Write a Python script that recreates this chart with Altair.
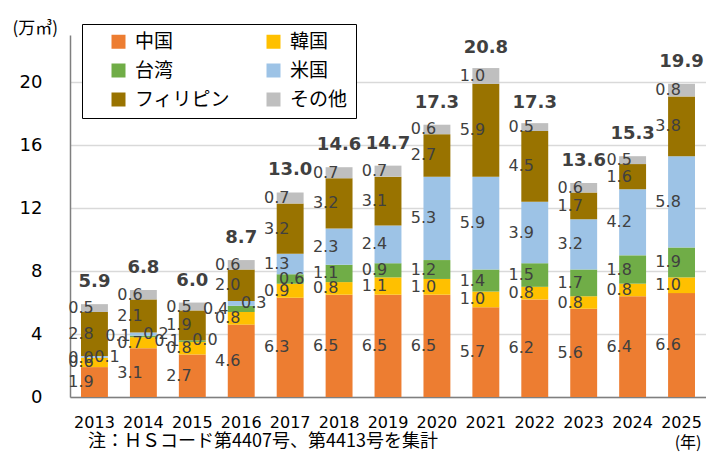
import altair as alt
import pandas as pd

years = [str(y) for y in range(2013, 2026)]
series = ["中国", "韓国", "台湾", "米国", "フィリピン", "その他"]
china = [1.9, 3.1, 2.7, 4.6, 6.3, 6.5, 6.5, 6.5, 5.7, 6.2, 5.6, 6.4, 6.6]
korea = [0.6, 0.7, 0.8, 0.8, 0.9, 0.8, 1.1, 1.0, 1.0, 0.8, 0.8, 0.8, 1.0]
taiwan = [0.0, 0.1, 0.1, 0.4, 0.6, 1.1, 0.9, 1.2, 1.4, 1.5, 1.7, 1.8, 1.9]
usa = [0.1, 0.2, 0.0, 0.3, 1.3, 2.3, 2.4, 5.3, 5.9, 3.9, 3.2, 4.2, 5.8]
phil = [2.8, 2.1, 1.9, 2.0, 3.2, 3.2, 3.1, 2.7, 5.9, 4.5, 1.7, 1.6, 3.8]
other = [0.5, 0.6, 0.5, 0.6, 0.7, 0.7, 0.7, 0.6, 1.0, 0.5, 0.6, 0.5, 0.8]
totals = [5.9, 6.8, 6.0, 8.7, 13.0, 14.6, 14.7, 17.3, 20.8, 17.3, 13.6, 15.3, 19.9]
colors = ["#ED7D31", "#FFC000", "#70AD47", "#9DC3E6", "#997300", "#BFBFBF"]
note = "注：ＨＳコード第4407号、第4413号を集計"

rows = []
for idx, (name, vals) in enumerate(zip(series, [china, korea, taiwan, usa, phil, other])):
    for yr, v in zip(years, vals):
        rows.append({"year": yr, "series": name, "idx": idx, "value": v})
df = pd.DataFrame(rows)
tot_df = pd.DataFrame({"year": years, "total": totals})

xenc = alt.X(
    "year:N",
    sort=years,
    scale=alt.Scale(paddingInner=0.45, paddingOuter=0.225),
    axis=alt.Axis(
        title="(年)", labelAngle=0, ticks=False, labelFont="DejaVu Sans",
        labelFontSize=16, labelColor="black", labelPadding=17,
        domainColor="#7F7F7F", domainWidth=1.5,
        titleFont="Noto Sans CJK JP", titleFontSize=16, titleFontWeight="normal",
        titleColor="black", titleX=631, titleY=45, titleAlign="right",
        titleBaseline="middle", titleAnchor="end",
    ),
)
yscale = alt.Scale(domain=[0, 23], nice=False, zero=True)

base = alt.Chart(df).transform_stack(
    stack="value", groupby=["year"], as_=["y0", "y1"],
    sort=[alt.SortField("idx", order="ascending")],
).transform_calculate(
    mid="(datum.y0 + datum.y1) / 2",
    label="format(datum.value, '.1f')",
    xoff="datum.series == '米国' && datum.value < 0.5 ? 26 : "
         "(datum.series == '台湾' && datum.value >= 0.05 && datum.value < 0.5 ? -12 : "
         "(datum.series == '台湾' && datum.value >= 0.5 && datum.value < 0.7 ? 15 : 0))",
    yoff="datum.series == '台湾' && datum.value < 0.05 ? -8 : 0",
)

bars = base.mark_bar().encode(
    x=xenc,
    y=alt.Y(
        "y0:Q", scale=yscale,
        axis=alt.Axis(
            values=[0, 4, 8, 12, 16, 20], ticks=False, labelFont="DejaVu Sans",
            labelFontSize=18, labelColor="black", labelPadding=28,
            domainColor="#7F7F7F", domainWidth=1.5, gridColor="#D9D9D9", gridWidth=1.5,
            title="(万㎥)", titleAngle=0, titleX=-58, titleY=-7, titleAlign="left",
            titleBaseline="middle", titleFont="Noto Sans CJK JP", titleFontSize=17,
            titleFontWeight="normal", titleColor="black",
        ),
    ),
    y2="y1:Q",
    color=alt.Color(
        "series:N",
        scale=alt.Scale(domain=series, range=colors),
        legend=alt.Legend(
            title=None, orient="none", legendX=12, legendY=-11, columns=2,
            direction="horizontal",
            symbolType="square", symbolSize=196, symbolStrokeWidth=0,
            symbolOffset=19, columnPadding=14, rowPadding=9, labelOffset=7,
            labelFont="Noto Sans CJK JP", labelFontSize=19, labelColor="black",
            strokeColor="black", fillColor="white", padding=8,
        ),
    ),
    order=alt.Order("idx:Q", sort="ascending"),
)

labels = base.mark_text(
    font="DejaVu Sans", fontSize=16, color="#404040", baseline="middle"
).encode(
    x=alt.X("year:N", sort=years),
    y=alt.Y("mid:Q", scale=yscale),
    xOffset=alt.XOffset("xoff:Q", scale=None),
    yOffset=alt.YOffset("yoff:Q", scale=None),
    text="label:N",
)

tot_labels = alt.Chart(tot_df).mark_text(
    font="DejaVu Sans", fontSize=18, fontWeight="bold", color="#404040",
    baseline="alphabetic", dy=-17,
).encode(
    x=alt.X("year:N", sort=years),
    y=alt.Y("total:Q", scale=yscale),
    text=alt.Text("total:Q", format=".1f"),
)

note_txt = alt.Chart(pd.DataFrame({"t": [note]})).mark_text(
    font="Noto Sans CJK JP", fontSize=18, color="black", align="left", baseline="middle"
).encode(x=alt.value(18), y=alt.value(407), text="t:N")

chart = alt.layer(bars, labels, tot_labels, note_txt).properties(
    width=636, height=362,
    autosize=alt.AutoSizeParams(type="none"),
    padding={"left": 62, "top": 27, "right": 0, "bottom": 55},
).configure_view(stroke=None)

chart.save("out.html", embed_options={"renderer": "svg", "actions": False})
